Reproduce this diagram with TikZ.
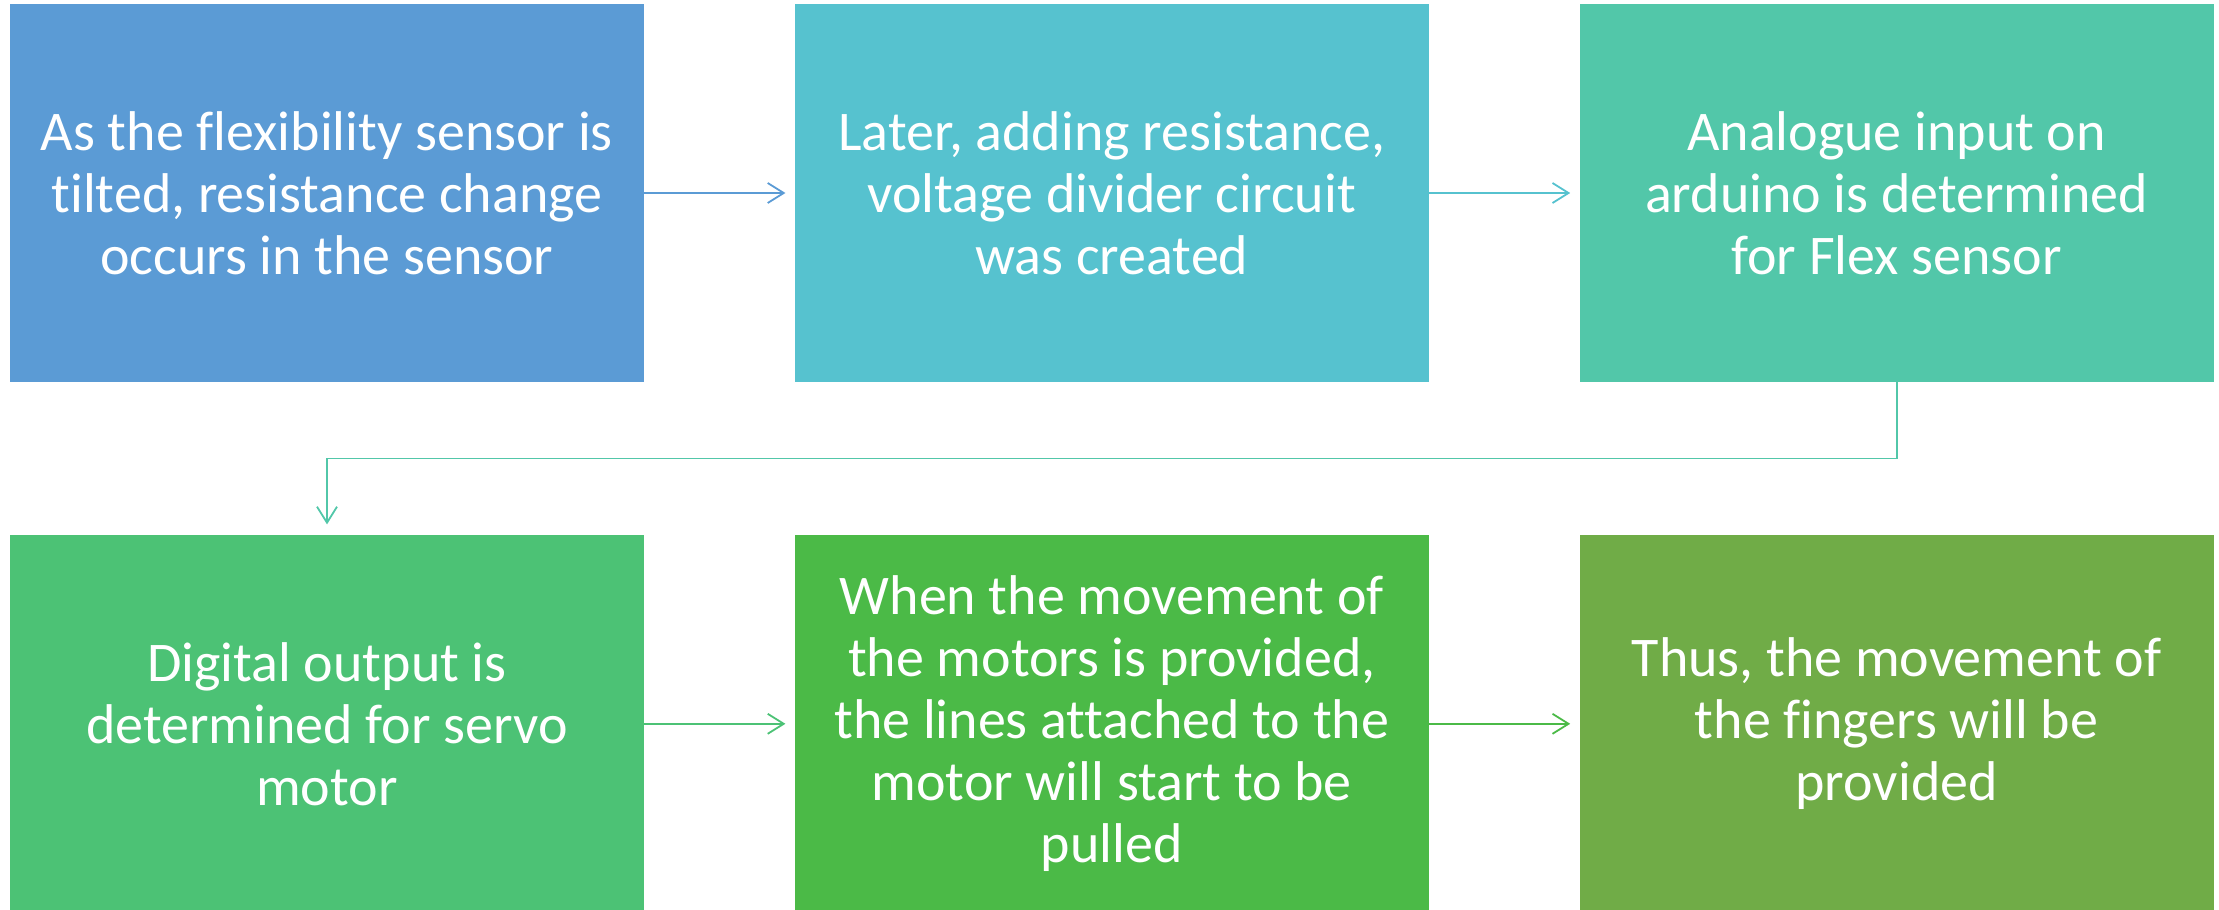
\documentclass[tikz,border=0pt]{standalone}
\usepackage{fontspec}
\setmainfont{Carlito}[Ligatures=NoCommon]
\definecolor{senseblue}{HTML}{5B9BD5}
\definecolor{dividecyan}{HTML}{56C2CF}
\definecolor{analogteal}{HTML}{52C7A9}
\definecolor{digitalgreen}{HTML}{4CC275}
\definecolor{motorgreen}{HTML}{4BBA47}
\definecolor{fingerolive}{HTML}{70AC47}
\usetikzlibrary{arrows.meta, positioning, calc}

\begin{document}
\begin{tikzpicture}[
    stepbox/.style={rectangle, minimum width=317pt, minimum height=189pt,
                    inner sep=0pt, align=center, text=white,
                    font=\fontsize{28}{31}\selectfont},
    flow/.style={-{Straight Barb[length=8pt,width=10pt]}, line width=0.9pt,
                 shorten >=4.5pt},
    node distance=75pt and 75pt
  ]
    \useasboundingbox (0,0) rectangle (1109.5pt,-454.5pt);

    \node[stepbox, fill=senseblue] (sense) at (163.5pt,-96.5pt)
      {As the flexibility sensor is\\tilted, resistance change\\occurs in the sensor};
    \node[stepbox, fill=dividecyan, right=of sense] (divide)
      {Later, adding resistance,\\voltage divider circuit\\was created};
    \node[stepbox, fill=analogteal, right=of divide] (analog)
      {Analogue input on\\arduino is determined\\for Flex sensor};
    \node[stepbox, fill=digitalgreen, below=76pt of sense] (digital)
      {Digital output is\\determined for servo\\motor};
    \node[stepbox, fill=motorgreen, right=of digital] (motor)
      {When the movement of\\the motors is provided,\\the lines attached to the\\motor will start to be\\pulled};
    \node[stepbox, fill=fingerolive, right=of motor] (finger)
      {Thus, the movement of\\the fingers will be\\provided};

    \coordinate (turn) at ($(analog.south)!0.5!(digital.north)$);
    \draw[flow, draw=senseblue] (sense) -- (divide);
    \draw[flow, draw=dividecyan] (divide) -- (analog);
    \draw[flow, draw=analogteal, shorten >=5pt]
      (analog.south) -- (analog.south |- turn) -| (digital.north);
    \draw[flow, draw=digitalgreen] (digital) -- (motor);
    \draw[flow, draw=motorgreen] (motor) -- (finger);
  \end{tikzpicture}
\end{document}
